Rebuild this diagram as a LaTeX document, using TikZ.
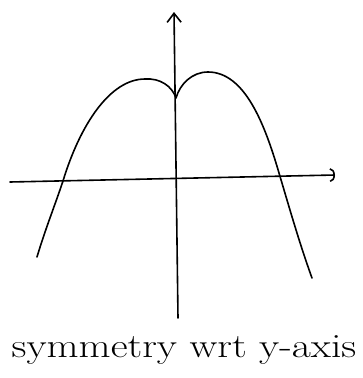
\documentclass[tikz,border=0pt]{standalone}
\usetikzlibrary{arrows.meta}
\begin{document}
\begin{tikzpicture}[x=1pt, y=-1pt, line width=1.6pt, line cap=round, line join=round]
    \useasboundingbox (0,0) rectangle (362,378);
    \coordinate (yb) at (178,318);
    \coordinate (yt) at (174,12);
    \coordinate (xl) at (10,182);
    \coordinate (xr) at (335,175);
    \coordinate (cusp) at (176,98);
    \draw[-{Straight Barb[length=9pt, width=14pt]}] (yb) -- (yt);
    \draw[-{Arc Barb[length=5pt, width=14pt]}] (xl) -- (xr);
    \draw (37,257) .. controls (45,230) and (55,205) .. (63,181)
        .. controls (80,125) and (110,79) .. (145,79)
        .. controls (160,78) and (172,86) .. (cusp)
        .. controls (180,84) and (192,72) .. (208,72)
        .. controls (245,72) and (265,125) .. (279,173)
        .. controls (290,210) and (300,245) .. (312,278);
    \node (label) at (184,350) [font=\fontsize{34}{38}\selectfont, xscale=1.22] {symmetry wrt y-axis};
\end{tikzpicture}
\end{document}
